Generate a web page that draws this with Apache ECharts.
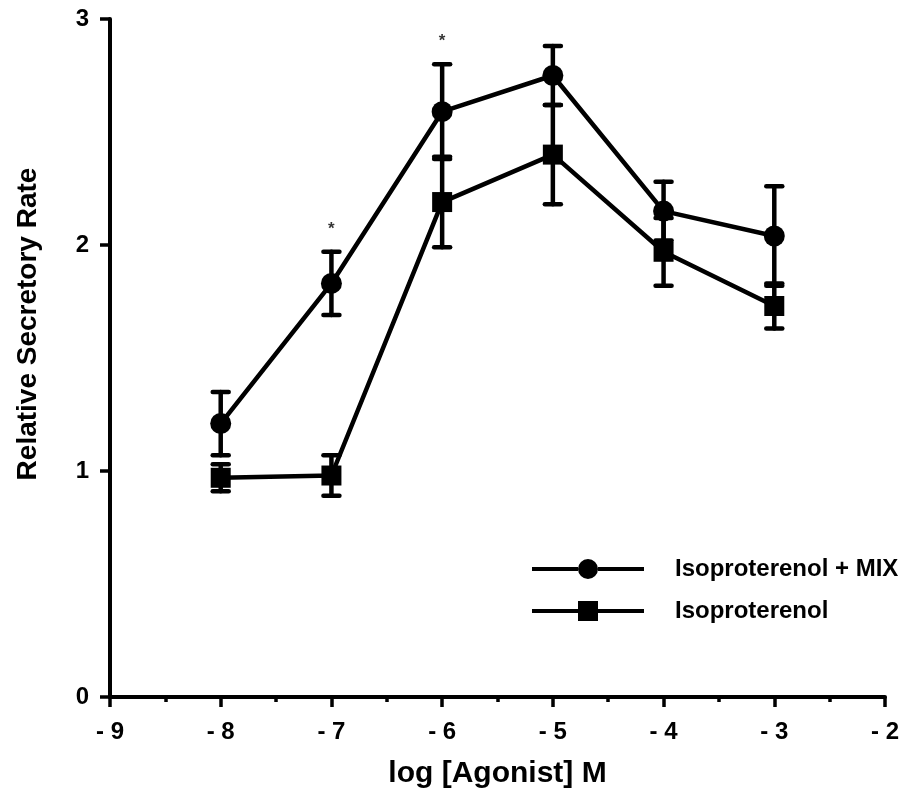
<!DOCTYPE html>
<html>
<head>
<meta charset="utf-8">
<script src="https://cdn.jsdelivr.net/npm/echarts@6/dist/echarts.min.js"></script>
<style>
  html, body { margin: 0; padding: 0; background: #fff; }
  #chart { width: 911px; height: 801px; }
</style>
</head>
<body>
<div id="chart"></div>
<script>
// log [Agonist] M
const doses = [-8, -7, -6, -5, -4, -3]

// Isoproterenol + MIX
const mixMean = [1.21, 1.83, 2.59, 2.75, 2.15, 2.04]
const mixErr = [0.14, 0.14, 0.21, 0.13, 0.13, 0.22]

// Isoproterenol alone
const isoMean = [0.97, 0.98, 2.19, 2.40, 1.97, 1.73]
const isoErr = [0.06, 0.09, 0.20, 0.22, 0.15, 0.10]

// significance markers
const starX = [-7, -6]
const starY = [2.07, 2.90]

const FONT = 'Liberation Sans, Arial, sans-serif'

// legend icons: thick line with the marker in the middle
const ICON_CIRCLE = 'path://M0 8H46V12H0Z M66 8H112V12H66Z M46 10A10 10 0 1 1 66 10A10 10 0 1 1 46 10Z'
const ICON_SQUARE = 'path://M0 8H46V12H0Z M66 8H112V12H66Z M46 0H66V20H46Z'

const chart = echarts.init(document.getElementById('chart'))

const errorData = (means, errs) =>
  doses.map((d, i) => [d, means[i] - errs[i], means[i] + errs[i]])

const errorSeries = (name, means, errs) => ({
  name: name + ' err',
  type: 'custom',
  z: 1,
  silent: true,
  data: errorData(means, errs),
  renderItem: (params, api) => {
    const lo = api.coord([api.value(0), api.value(1)])
    const hi = api.coord([api.value(0), api.value(2)])
    const cap = 8
    const style = { stroke: '#000', lineWidth: 4.5, lineCap: 'round' }
    return {
      type: 'group',
      children: [
        { type: 'line', shape: { x1: lo[0], y1: lo[1], x2: hi[0], y2: hi[1] }, style },
        { type: 'line', shape: { x1: lo[0] - cap, y1: lo[1], x2: lo[0] + cap, y2: lo[1] }, style },
        { type: 'line', shape: { x1: hi[0] - cap, y1: hi[1], x2: hi[0] + cap, y2: hi[1] }, style }
      ]
    }
  }
})

const option = {
  animation: false,
  backgroundColor: '#fff',
  grid: { left: 110, right: 26, top: 19, bottom: 104 },
  xAxis: {
    type: 'value',
    min: -9,
    max: -2,
    interval: 1,
    name: 'log [Agonist] M',
    nameLocation: 'middle',
    nameGap: 62,
    nameTextStyle: { fontFamily: FONT, fontWeight: 'bold', fontSize: 30, color: '#000' },
    splitLine: { show: false },
    axisLine: { onZero: false, lineStyle: { color: '#000', width: 4 } },
    axisTick: { show: true, inside: false, length: 10, lineStyle: { color: '#000', width: 3.5 } },
    minorTick: { show: true, splitNumber: 2, length: 5, lineStyle: { color: '#000', width: 3.5 } },
    axisLabel: {
      margin: 23,
      fontFamily: FONT,
      fontWeight: 'bold',
      fontSize: 24,
      color: '#000',
      formatter: v => '- ' + Math.abs(v)
    }
  },
  yAxis: {
    type: 'value',
    min: 0,
    max: 3,
    interval: 1,
    name: 'Relative Secretory Rate',
    nameLocation: 'middle',
    nameRotate: 90,
    nameGap: 68,
    nameTextStyle: { fontFamily: FONT, fontWeight: 'bold', fontSize: 28, color: '#000', padding: [0, 0, 0, 68] },
    splitLine: { show: false },
    axisLine: { onZero: false, lineStyle: { color: '#000', width: 4 } },
    axisTick: { show: true, inside: false, length: 10, lineStyle: { color: '#000', width: 3.5 } },
    axisLabel: {
      margin: 21,
      fontFamily: FONT,
      fontWeight: 'bold',
      fontSize: 24,
      color: '#000'
    }
  },
  legend: {
    orient: 'vertical',
    left: 527,
    top: 552,
    itemWidth: 112,
    itemHeight: 20,
    itemGap: 18,
    textStyle: { fontFamily: FONT, fontWeight: 'bold', fontSize: 24, color: '#000', padding: [0, 0, 0, 26] },
    data: [
      { name: 'Isoproterenol + MIX', icon: ICON_CIRCLE },
      { name: 'Isoproterenol', icon: ICON_SQUARE }
    ]
  },
  series: [
    errorSeries('Isoproterenol + MIX', mixMean, mixErr),
    errorSeries('Isoproterenol', isoMean, isoErr),
    {
      name: 'Isoproterenol + MIX',
      type: 'line',
      z: 3,
      data: doses.map((d, i) => [d, mixMean[i]]),
      symbol: 'circle',
      symbolSize: 21,
      lineStyle: { color: '#000', width: 4.5 },
      itemStyle: { color: '#000', borderWidth: 0 }
    },
    {
      name: 'Isoproterenol',
      type: 'line',
      z: 3,
      data: doses.map((d, i) => [d, isoMean[i]]),
      symbol: 'rect',
      symbolSize: 20,
      lineStyle: { color: '#000', width: 4.5 },
      itemStyle: { color: '#000', borderWidth: 0 }
    },
    {
      name: 'stars',
      type: 'scatter',
      silent: true,
      symbolSize: 0,
      data: starX.map((x, i) => [x, starY[i]]),
      label: {
        show: true,
        position: 'inside',
        formatter: '*',
        fontFamily: FONT,
        fontWeight: 'bold',
        fontSize: 17,
        color: '#000'
      }
    }
  ]
}

chart.setOption(option)
</script>
</body>
</html>
